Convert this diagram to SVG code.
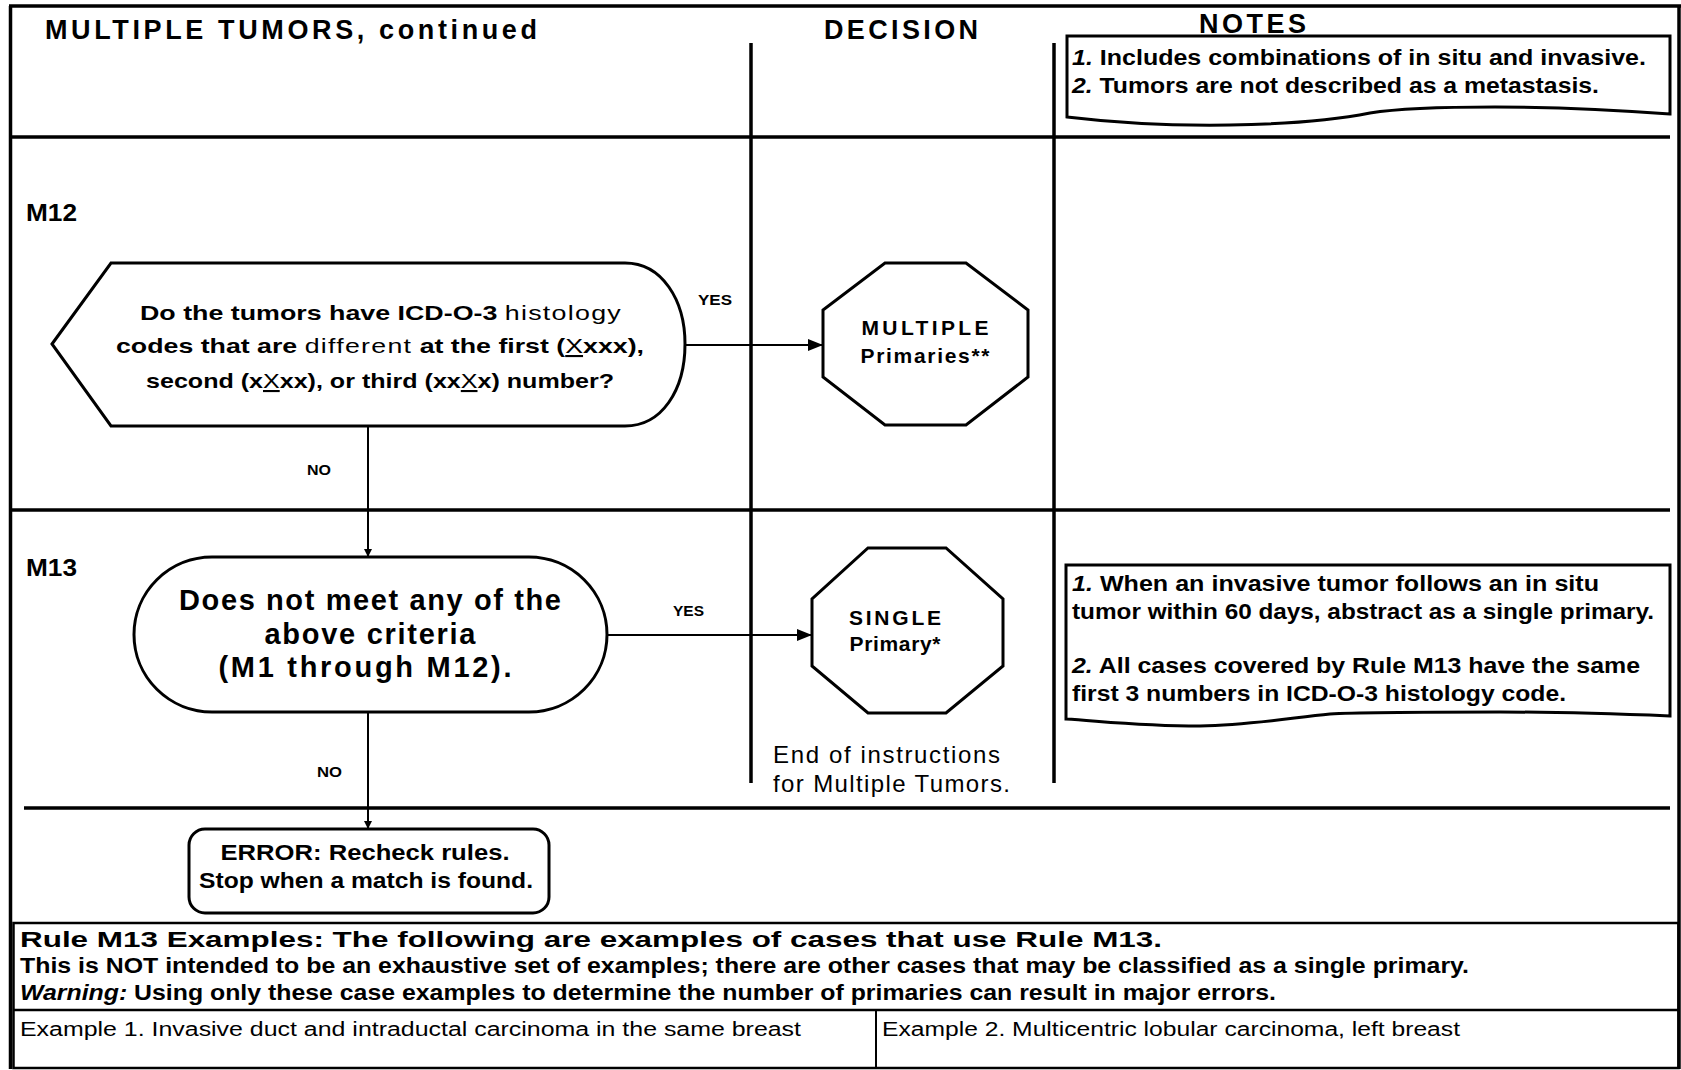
<svg xmlns="http://www.w3.org/2000/svg" width="1681" height="1070" viewBox="0 0 1681 1070">
<style>
text{font-family:"Liberation Sans",Arial,sans-serif;fill:#000}
.hdr{font-weight:bold;font-size:27px}
.lbl{font-weight:bold;font-size:23px}
.yn{font-weight:bold;font-size:15px}
.q{font-weight:bold;font-size:21px}
.w{font-weight:normal;letter-spacing:1px}
.u{font-weight:normal;text-decoration:underline}
.oct{font-weight:bold;font-size:21px}
.big{font-weight:bold;font-size:29px}
.note{font-weight:bold;font-size:22px}
.ex{font-size:20px}
.it{font-style:italic}
.shape{fill:#fff;stroke:#000;stroke-width:3}
.rule{stroke:#000;stroke-width:3.5;fill:none}
.conn{stroke:#000;stroke-width:2;fill:none}
</style>
<defs>
<marker id="arr" viewBox="0 0 10 10" refX="10" refY="5" markerWidth="8" markerHeight="8" markerUnits="userSpaceOnUse" orient="auto">
<path d="M0,0 L10,5 L0,10 Z" fill="#000"/>
</marker>
<marker id="arrL" viewBox="0 0 10 10" refX="10" refY="5" markerWidth="15" markerHeight="15" markerUnits="userSpaceOnUse" orient="auto">
<path d="M0,1 L10,5 L0,9 Z" fill="#000"/>
</marker>
</defs>
<rect x="0" y="0" width="1681" height="1070" fill="#fff"/>

<g id="frame">
<line class="rule" x1="9" y1="6" x2="1681" y2="6"/>
<line class="rule" x1="10.5" y1="6" x2="10.5" y2="1069"/>
<line class="rule" x1="1679" y1="6" x2="1679" y2="1069"/>
<line class="rule" x1="11" y1="137" x2="1670" y2="137"/>
<line class="rule" x1="11" y1="510" x2="1670" y2="510"/>
<line class="rule" x1="24" y1="808" x2="1670" y2="808"/>
<line class="rule" x1="751" y1="43" x2="751" y2="783"/>
<line class="rule" x1="1054" y1="43" x2="1054" y2="783"/>
<text class="hdr" x="45" y="39" textLength="492" lengthAdjust="spacing">MULTIPLE TUMORS,  continued</text>
<text class="hdr" x="824" y="39" textLength="154" lengthAdjust="spacing">DECISION</text>
<text class="hdr" x="1199" y="33" textLength="107" lengthAdjust="spacing">NOTES</text>
<text class="lbl" x="26" y="221" textLength="51" lengthAdjust="spacingAndGlyphs">M12</text>
<text class="lbl" x="26" y="576" textLength="51" lengthAdjust="spacingAndGlyphs">M13</text>
</g>

<g id="note1">
<path class="shape" d="M1067,36 H1670 V114 C1630,111 1560,107 1495,107 C1440,107 1395,109 1370,113 C1340,119 1300,124 1230,125 C1160,126 1100,121 1067,117 Z"/>
<text class="note" x="1072" y="65" textLength="574" lengthAdjust="spacingAndGlyphs"><tspan class="it">1.</tspan>  Includes combinations of in situ and invasive.</text>
<text class="note" x="1072" y="93" textLength="527" lengthAdjust="spacingAndGlyphs"><tspan class="it">2.</tspan> Tumors are not described as a metastasis.</text>
</g>

<g id="m12">
<path class="shape" d="M52,344 L111,263 H625 C662,263 685,300 685,344 C685,390 662,426 625,426 H111 Z"/>
<text class="q" x="381" y="320" text-anchor="middle" textLength="482" lengthAdjust="spacingAndGlyphs">Do the tumors have ICD-O-3 <tspan class="w">histology</tspan></text>
<text class="q" x="380" y="353" text-anchor="middle" textLength="528" lengthAdjust="spacingAndGlyphs">codes that are <tspan class="w">different</tspan> at the first (<tspan class="u">X</tspan>xxx),</text>
<text class="q" x="380" y="388" text-anchor="middle" textLength="468" lengthAdjust="spacingAndGlyphs">second (x<tspan class="u">X</tspan>xx), or third (xx<tspan class="u">X</tspan>x) number?</text>
</g>

<g id="multiple">
<polygon class="shape" points="885,263 966,263 1028,310 1028,377 966,425 885,425 823,377 823,310"/>
<text class="oct" x="925" y="335" text-anchor="middle" textLength="127" lengthAdjust="spacing">MULTIPLE</text>
<text class="oct" x="925" y="363" text-anchor="middle" textLength="129" lengthAdjust="spacing">Primaries**</text>
</g>

<g id="m13">
<rect class="shape" x="134" y="557" width="473" height="155" rx="78" ry="78"/>
<text class="big" x="370" y="610" text-anchor="middle" textLength="382" lengthAdjust="spacing">Does not meet any of the</text>
<text class="big" x="370" y="644" text-anchor="middle" textLength="211" lengthAdjust="spacing">above criteria</text>
<text class="big" x="365" y="677" text-anchor="middle" textLength="293" lengthAdjust="spacing">(M1 through M12).</text>
</g>

<g id="single">
<polygon class="shape" points="868,548 946,548 1003,599 1003,666 946,713 868,713 812,666 812,599"/>
<text class="oct" x="895" y="625" text-anchor="middle" textLength="92" lengthAdjust="spacing">SINGLE</text>
<text class="oct" x="895" y="651" text-anchor="middle" textLength="91" lengthAdjust="spacing">Primary*</text>
</g>

<g id="endnote">
<text x="773" y="763" font-size="24" textLength="227" lengthAdjust="spacing">End of instructions</text>
<text x="773" y="792" font-size="24" textLength="237" lengthAdjust="spacing">for Multiple Tumors.</text>
</g>

<g id="note2">
<path class="shape" d="M1066,565 H1670 V716 C1620,714 1560,712 1500,712 C1420,712 1360,712 1330,714 C1290,718 1250,725 1200,726 C1140,726 1100,721 1066,719 Z"/>
<text class="note" x="1072" y="591" textLength="527" lengthAdjust="spacingAndGlyphs"><tspan class="it">1.</tspan>  When an invasive tumor follows an in situ</text>
<text class="note" x="1072" y="619" textLength="582" lengthAdjust="spacingAndGlyphs">tumor within 60 days, abstract as a single primary.</text>
<text class="note" x="1072" y="673" textLength="568" lengthAdjust="spacingAndGlyphs"><tspan class="it">2.</tspan> All cases covered by Rule M13 have the same</text>
<text class="note" x="1072" y="701" textLength="494" lengthAdjust="spacingAndGlyphs">first 3 numbers in ICD-O-3 histology code.</text>
</g>

<g id="error">
<rect class="shape" x="189" y="829" width="360" height="84" rx="16" ry="16"/>
<text class="note" x="365" y="860" text-anchor="middle" textLength="289" lengthAdjust="spacingAndGlyphs">ERROR:  Recheck rules.</text>
<text class="note" x="366" y="888" text-anchor="middle" textLength="334" lengthAdjust="spacingAndGlyphs">Stop when a match is found.</text>
</g>

<g id="examples">
<rect x="13.5" y="923" width="1665" height="145" fill="none" stroke="#000" stroke-width="2.5"/>
<line x1="13" y1="1010" x2="1679" y2="1010" stroke="#000" stroke-width="2.5"/>
<line x1="876" y1="1010" x2="876" y2="1068" stroke="#000" stroke-width="2"/>
<text class="note" x="20" y="947" textLength="1142" lengthAdjust="spacingAndGlyphs">Rule M13 Examples:  The following are examples of cases that use Rule M13.</text>
<text class="note" x="20" y="973" textLength="1449" lengthAdjust="spacingAndGlyphs">This is NOT intended to be an exhaustive set of examples; there are other cases that may be classified as a single primary.</text>
<text class="note" x="20" y="1000" textLength="1256" lengthAdjust="spacingAndGlyphs"><tspan class="it">Warning:</tspan> Using only these case examples to determine the number of primaries can result in major errors.</text>
<text class="ex" x="20" y="1036" textLength="781" lengthAdjust="spacingAndGlyphs">Example 1.   Invasive duct and intraductal carcinoma in the same breast</text>
<text class="ex" x="882" y="1036" textLength="578" lengthAdjust="spacingAndGlyphs">Example 2.  Multicentric lobular carcinoma, left breast</text>
</g>

<g id="connectors">
<line class="conn" x1="685" y1="345" x2="823" y2="345" marker-end="url(#arrL)"/>
<line class="conn" x1="368" y1="426" x2="368" y2="557" marker-end="url(#arr)"/>
<line class="conn" x1="607" y1="635" x2="812" y2="635" marker-end="url(#arrL)"/>
<line class="conn" x1="368" y1="712" x2="368" y2="829" marker-end="url(#arr)"/>
<text class="yn" x="698" y="305" textLength="34" lengthAdjust="spacingAndGlyphs">YES</text>
<text class="yn" x="307" y="475" textLength="24" lengthAdjust="spacingAndGlyphs">NO</text>
<text class="yn" x="673" y="616" textLength="31" lengthAdjust="spacingAndGlyphs">YES</text>
<text class="yn" x="317" y="777" textLength="25" lengthAdjust="spacingAndGlyphs">NO</text>
</g>
</svg>
